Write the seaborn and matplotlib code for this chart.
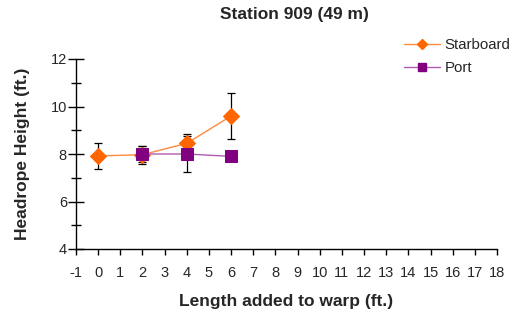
import matplotlib
matplotlib.use("Agg")
import matplotlib.pyplot as plt
from matplotlib.lines import Line2D
import seaborn as sns
import pandas as pd

sns.set_style("white")
plt.rcParams['font.family'] = ['Liberation Sans', 'DejaVu Sans']
plt.rcParams['axes.unicode_minus'] = False

star_x = [0, 2, 4, 6]
star_y = [7.92, 7.97, 8.45, 9.6]
star_err = [0.55, 0.38, 0.38, 0.98]

port_x = [2, 4, 6]
port_y = [8.0, 8.0, 7.9]
port_err = [0.35, 0.75, 0.0]

xticks = list(range(-1, 19))

star_line, star_face = "#FF8A3D", "#FF6600"
port_line, port_face = "#B05AB0", "#800080"

fig = plt.figure(figsize=(5.14, 3.2), dpi=100)
ax = fig.add_axes([76/514, 1-249/320, (497-76)/514, (249-59)/320])

df_s = pd.DataFrame({"x": star_x, "y": star_y})
df_p = pd.DataFrame({"x": port_x, "y": port_y})

ax.errorbar(star_x, star_y, yerr=star_err, fmt='none', ecolor='black', elinewidth=0.9, capsize=3, capthick=0.9, zorder=2)
ax.errorbar(port_x, port_y, yerr=port_err, fmt='none', ecolor='black', elinewidth=0.9, capsize=3, capthick=0.9, zorder=2)

sns.lineplot(data=df_s, x="x", y="y", ax=ax, color=star_line, lw=1.0, marker="D", markersize=8.5,
             markerfacecolor=star_face, markeredgecolor=star_face, zorder=3)
sns.lineplot(data=df_p, x="x", y="y", ax=ax, color=port_line, lw=1.0, marker="s", markersize=8,
             markerfacecolor=port_face, markeredgecolor=port_face, zorder=4)

ax.set_xlim(-1, 18)
ax.set_ylim(4, 12)
ax.set_xticks(xticks)
ax.set_yticks([4, 6, 8, 10, 12])
ax.set_yticks([5, 7, 9, 11], minor=True)
ax.tick_params(axis='x', which='major', direction='out', length=4, width=1, labelsize=10.5,
               color='black', bottom=True, pad=8)
ax.tick_params(axis='y', which='major', direction='inout', length=11, width=1, labelsize=10.5,
               color='black', left=True, pad=1)
ax.tick_params(axis='y', which='minor', direction='inout', length=7, width=1, color='black', left=True)
for s in ['top', 'right']:
    ax.spines[s].set_visible(False)
for s in ['left', 'bottom']:
    ax.spines[s].set_color('black')
    ax.spines[s].set_linewidth(1)

ax.set_xlabel("Length added to warp (ft.)", fontsize=12.5, fontweight='bold', labelpad=10)
ax.set_ylabel("Headrope Height (ft.)", fontsize=12.5, fontweight='bold', labelpad=15)
fig.text(294/514, 1-14/320, "Station 909 (49 m)", ha='center', va='center', fontsize=12.5, fontweight='bold')

handles = [
    Line2D([], [], color=star_line, lw=1.0, marker="D", markersize=5, markerfacecolor=star_face, markeredgecolor=star_face),
    Line2D([], [], color=port_line, lw=1.0, marker="s", markersize=6, markerfacecolor=port_face, markeredgecolor=port_face),
]
fig.legend(handles, ["Starboard", "Port"], loc='upper left', bbox_to_anchor=(398/514, 1-32/320), frameon=False,
           fontsize=10.8, handlelength=2.4, labelspacing=0.6, borderaxespad=0, handletextpad=0.3)

fig.savefig("out.png", dpi=100)
